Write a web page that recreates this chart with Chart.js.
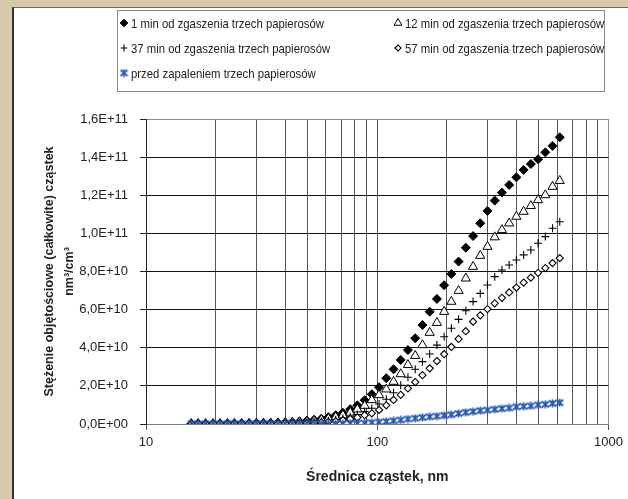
<!DOCTYPE html>
<html lang="pl">
<head>
<meta charset="utf-8">
<title>Stężenie objętościowe cząstek</title>
<script src="https://cdn.jsdelivr.net/npm/chart.js@4.4.1/dist/chart.umd.min.js"></script>
<style>
  html, body { margin: 0; padding: 0; }
  body { width: 628px; height: 499px; overflow: hidden; background: #d8caa9; position: relative; }
  #panel { position: absolute; left: 12px; top: 7px; right: -10px; bottom: -10px; background: #fff;
           border-left: 2px solid #333; border-top: 1px solid #6f6a60; }
  #wrap { position: absolute; left: 0; top: 0; width: 628px; height: 499px; }
</style>
</head>
<body>
<div id="panel"></div>
<div id="wrap"><canvas id="chart" width="628" height="499"></canvas></div>
<script>
const FONT = '"Liberation Sans", Arial, sans-serif';

// Średnica cząstek, nm (kanały SMPS)
const diameters = [15.7, 16.8, 18.1, 19.5, 20.9, 22.5, 24.1, 25.9, 27.9, 30.0,
  32.2, 34.6, 37.2, 40.0, 42.9, 46.1, 49.6, 53.3, 57.3, 61.5,
  66.1, 71.0, 76.4, 82.0, 88.2, 94.7, 101.8, 109.4, 117.6, 126.3,
  135.7, 145.9, 156.8, 168.5, 181.1, 194.6, 209.1, 224.7, 241.4, 259.5,
  278.8, 299.6, 322.0, 346.0, 371.8, 399.5, 429.4, 461.4, 495.8, 532.8,
  572.5, 615.3];

// stężenie w jednostkach 1E+09 nm3/cm3
const UNIT = 1e9;
const after1min = [0.1, 0.1, 0.1, 0.1, 0.15, 0.2, 0.2, 0.25, 0.3, 0.35,
  0.4, 0.5, 0.6, 0.8, 1.0, 1.3, 1.7, 2.2, 2.8, 3.6,
  4.6, 5.9, 7.8, 9.8, 12.5, 15.6, 19.3, 24.0, 28.7, 33.6,
  38.8, 45.0, 51.9, 58.9, 65.6, 72.8, 78.7, 85.2, 92.5, 98.6,
  105.3, 111.8, 117.2, 121.4, 125.4, 129.4, 133.3, 136.4, 138.9, 142.5,
  145.9, 150.4];
const after12min = [0.1, 0.1, 0.1, 0.1, 0.1, 0.15, 0.2, 0.2, 0.25, 0.3,
  0.35, 0.4, 0.5, 0.6, 0.8, 1.0, 1.3, 1.7, 2.2, 2.8,
  3.6, 4.6, 6.0, 7.7, 9.6, 12.6, 15.2, 18.2, 22.2, 26.2,
  31.0, 35.8, 41.4, 47.9, 53.1, 58.9, 64.2, 69.9, 76.4, 82.5,
  88.3, 93.0, 98.0, 101.8, 105.3, 108.8, 111.4, 114.4, 117.5, 120.1,
  124.5, 127.6];
const after37min = [0.1, 0.1, 0.1, 0.1, 0.1, 0.1, 0.1, 0.15, 0.2, 0.2,
  0.25, 0.3, 0.35, 0.4, 0.5, 0.6, 0.8, 1.0, 1.3, 1.7,
  2.2, 2.9, 3.8, 5.0, 6.5, 8.3, 10.5, 13.0, 16.4, 20.3,
  24.5, 28.7, 32.7, 36.7, 41.4, 45.8, 50.2, 54.9, 59.4, 64.2,
  68.5, 72.9, 77.3, 80.8, 83.4, 86.0, 88.7, 91.3, 94.8, 98.3,
  102.7, 106.1];
const after57min = [0.1, 0.1, 0.1, 0.1, 0.1, 0.1, 0.1, 0.1, 0.1, 0.1,
  0.1, 0.15, 0.2, 0.25, 0.3, 0.4, 0.5, 0.6, 0.8, 1.1,
  1.5, 2.0, 2.6, 3.4, 4.6, 5.6, 7.4, 9.8, 12.6, 15.3,
  18.7, 22.0, 25.6, 29.2, 33.0, 36.6, 40.4, 44.6, 48.7, 53.7,
  57.0, 60.3, 63.3, 66.2, 69.0, 71.6, 74.2, 76.8, 79.3, 81.8,
  84.4, 87.0];
const beforeSmoking = [0.05, 0.05, 0.05, 0.05, 0.05, 0.05, 0.05, 0.05, 0.05, 0.05,
  0.05, 0.05, 0.05, 0.05, 0.05, 0.05, 0.05, 0.05, 0.05, 0.1,
  0.15, 0.2, 0.3, 0.4, 0.5, 0.7, 1.0, 1.3, 1.7, 2.1,
  2.6, 3.0, 3.4, 3.8, 4.1, 4.5, 4.9, 5.5, 6.1, 6.5,
  7.0, 7.3, 7.7, 8.1, 8.4, 9.0, 9.3, 9.5, 10.0, 10.3,
  10.8, 11.2];

const seriesLabels = [
  '1 min od zgaszenia trzech papierosów',
  '12 min od zgaszenia trzech papierosów',
  '37 min od zgaszenia trzech papierosów',
  '57 min od zgaszenia trzech papierosów',
  'przed zapaleniem trzech papierosów',
];

const xTicks = [10, 20, 30, 40, 50, 60, 70, 80, 90, 100,
  200, 300, 400, 500, 600, 700, 800, 900, 1000];
const xLabelTicks = [10, 100, 1000];
const yMax = 1.6e11;
const yStep = 2e10;

const BLUE = '#2658b4';

// gwiazdka Excela: X z pionową kreską
function starMarker(color) {
  const c = document.createElement('canvas');
  c.width = 9; c.height = 9;
  const g = c.getContext('2d');
  g.strokeStyle = color;
  g.lineWidth = 1.7;
  g.beginPath();
  g.moveTo(1, 1.5); g.lineTo(8, 7.5);
  g.moveTo(8, 1.5); g.lineTo(1, 7.5);
  g.moveTo(4.5, 0.5); g.lineTo(4.5, 8.5);
  g.stroke();
  return c;
}

const toPoints = vals => diameters.map((d, i) => ({ x: d, y: vals[i] * UNIT }));

function sciLabel(v) {
  const [m, e] = Number(v).toExponential(1).split('e');
  const exp = parseInt(e, 10);
  return m.replace('.', ',') + 'E' + (exp < 0 ? '-' : '+') + String(Math.abs(exp)).padStart(2, '0');
}

// legenda w ramce, dwie kolumny
const legendRows = [[0, 1], [2, 3], [4]];
const boxLegend = {
  id: 'boxLegend',
  afterDraw(chart) {
    const ctx = chart.ctx;
    const colX = [124, 398];
    const rowY = [23, 48, 73];
    ctx.save();
    ctx.strokeStyle = '#8a8a8a';
    ctx.lineWidth = 1;
    ctx.strokeRect(117.5, 10.5, 487, 81);
    ctx.font = '13.5px ' + FONT;
    ctx.textBaseline = 'middle';
    legendRows.forEach((row, r) => row.forEach((di, c) => {
      const ds = chart.data.datasets[di];
      ctx.fillStyle = ds.backgroundColor;
      ctx.strokeStyle = ds.borderColor;
      ctx.lineWidth = ds.borderWidth;
      Chart.helpers.drawPoint(ctx, {
        pointStyle: ds.pointStyle, radius: ds.pointRadius * 0.85, borderWidth: ds.borderWidth, rotation: 0,
      }, colX[c], rowY[r]);
      ctx.save();
      ctx.translate(colX[c] + 7, rowY[r] + 1);
      ctx.scale(0.84, 1);
      ctx.fillStyle = '#222';
      ctx.fillText(ds.label, 0, 0);
      ctx.restore();
    }));
    ctx.restore();
  },
};

new Chart(document.getElementById('chart'), {
  type: 'scatter',
  data: {
    datasets: [
      { label: seriesLabels[0], data: toPoints(after1min), pointStyle: 'rectRot', pointRadius: 4.5,
        backgroundColor: '#000', borderColor: '#000', borderWidth: 1, order: 4 },
      { label: seriesLabels[1], data: toPoints(after12min), pointStyle: 'triangle', pointRadius: 5.3,
        backgroundColor: '#fff', borderColor: '#000', borderWidth: 1, order: 3 },
      { label: seriesLabels[2], data: toPoints(after37min), pointStyle: 'cross', pointRadius: 4,
        backgroundColor: '#000', borderColor: '#000', borderWidth: 1.1, order: 2 },
      { label: seriesLabels[3], data: toPoints(after57min), pointStyle: 'rectRot', pointRadius: 3.6,
        backgroundColor: '#fff', borderColor: '#000', borderWidth: 1.1, order: 1 },
      { label: seriesLabels[4], data: toPoints(beforeSmoking), pointStyle: starMarker(BLUE), pointRadius: 4,
        backgroundColor: BLUE, borderColor: BLUE, borderWidth: 1, order: 0 },
    ],
  },
  options: {
    responsive: false,
    animation: false,
    devicePixelRatio: 1,
    layout: { padding: { top: 119, right: 18, left: 0, bottom: 0 } },
    plugins: {
      legend: { display: false },
      tooltip: { enabled: false },
    },
    scales: {
      x: {
        type: 'logarithmic',
        min: 10,
        max: 1000,
        afterBuildTicks: s => { s.ticks = xTicks.map(v => ({ value: v, major: xLabelTicks.includes(v) })); },
        afterFit: s => { s.height = 75; },
        ticks: {
          autoSkip: false, maxRotation: 0, padding: 5, color: '#222',
          font: { family: FONT, size: 13 },
          callback: v => xLabelTicks.includes(v) ? String(v) : '',
        },
        grid: {
          color: c => (c.tick && c.tick.value === 1000) ? '#8c8c8c' : '#555',
          tickColor: c => (c.tick && xLabelTicks.includes(c.tick.value)) ? '#555' : 'rgba(0,0,0,0)',
          tickLength: 6,
          lineWidth: 1,
        },
        border: { color: '#7a7a7a' },
        title: {
          display: true,
          text: 'Średnica cząstek, nm',
          color: '#222',
          font: { family: FONT, size: 14, weight: 'bold', lineHeight: '18px' },
          padding: { top: 0, bottom: 13 },
        },
      },
      y: {
        min: 0,
        max: yMax,
        afterFit: s => { s.width = 146; },
        ticks: {
          stepSize: yStep, padding: 12, color: '#222',
          font: { family: FONT, size: 13 },
          callback: v => sciLabel(v),
        },
        grid: {
          color: c => (c.tick && (c.tick.value === 0 || c.tick.value === yMax)) ? '#8c8c8c' : '#111',
          tickColor: '#222',
          tickLength: 6,
          lineWidth: 1,
        },
        border: { color: '#222' },
        title: {
          display: true,
          text: ['Stężenie objętościowe (całkowite) cząstek', 'nm³/cm³'],
          color: '#222',
          font: { family: FONT, size: 12.5, weight: 'bold', lineHeight: '20px' },
          padding: { top: 40, bottom: 0 },
        },
      },
    },
  },
  plugins: [boxLegend],
});
</script>
</body>
</html>
